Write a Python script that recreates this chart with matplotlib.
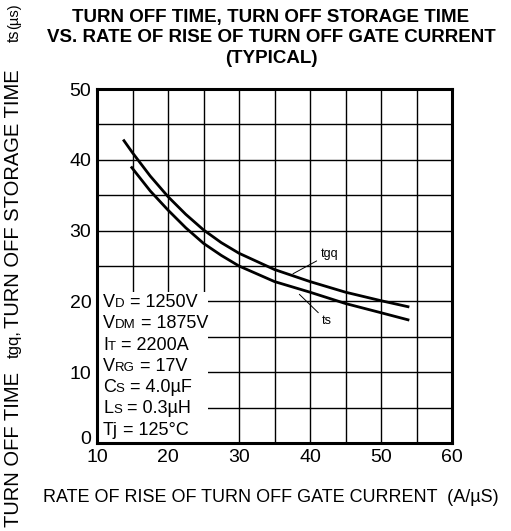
import matplotlib
matplotlib.use("Agg")
import matplotlib.pyplot as plt
import matplotlib.transforms as mtransforms
from matplotlib.patches import Rectangle
from matplotlib.offsetbox import TextArea, HPacker, AnnotationBbox

plt.rcParams["font.family"] = ["Liberation Sans", "DejaVu Sans"]

# data
x_tgq = [13.8, 15, 17.5, 20, 22.5, 25, 27.5, 30, 35, 40, 45, 50, 53.8]
tgq = [42.7, 41.0, 37.7, 34.8, 32.3, 30.1, 28.3, 26.8, 24.5, 22.8, 21.3, 20.1, 19.25]
x_ts = [14.9, 17.5, 20, 22.5, 25, 27.5, 30, 35, 40, 45, 50, 53.8]
ts = [38.9, 35.6, 32.9, 30.4, 28.2, 26.5, 25.0, 22.8, 21.3, 19.7, 18.4, 17.4]

x_ticks = [10, 20, 30, 40, 50, 60]
y_ticks = [0, 10, 20, 30, 40, 50]

# operating conditions: symbol, subscript, value
cond_sym = ["V", "V", "I", "V", "C", "L", "Tj"]
cond_sub = ["D", "DM", "T", "RG", "S", "S", ""]
cond_val = [" = 1250V", " = 1875V", " = 2200A", " = 17V",
            " = 4.0\u00b5F", " = 0.3\u00b5H", " = 125\u00b0C"]


def cond_line(ax, x, y, sym, sub, val):
    parts = [TextArea(sym, textprops=dict(fontsize=13))]
    if sub:
        parts.append(TextArea(sub, textprops=dict(fontsize=9.5)))
    parts.append(TextArea(val, textprops=dict(fontsize=13)))
    pack = HPacker(children=parts, align="baseline", pad=0, sep=0)
    ab = AnnotationBbox(pack, (x, y), xycoords="data", box_alignment=(0, 0.5),
                        frameon=False, pad=0, zorder=4)
    ax.add_artist(ab)


fig = plt.figure(figsize=(5.11, 5.31), dpi=100)
ax = fig.add_axes([97 / 511, 1 - 443 / 531, 355 / 511, 354 / 531])

ax.set_xlim(10, 60)
ax.set_ylim(0, 50)
ax.set_xticks(range(10, 61, 5))
ax.set_yticks(range(0, 51, 5))
ax.set_xticklabels([str(v) if v in x_ticks else "" for v in range(10, 61, 5)])
ax.set_yticklabels([str(v) if v in y_ticks else "" for v in range(0, 51, 5)])
ax.tick_params(length=0, labelsize=14, pad=4)
ax.grid(True, color="black", lw=1.0)
for s in ax.spines.values():
    s.set_linewidth(2.2)

# the "0" sits a little higher than the axis in the original
lab0 = ax.get_yticklabels()[0]
lab0.set_transform(lab0.get_transform() +
                   mtransforms.ScaledTranslation(0, 4 / 72, fig.dpi_scale_trans))

ax.plot(x_tgq, tgq, color="black", lw=2.0, zorder=3)
ax.plot(x_ts, ts, color="black", lw=2.0, zorder=3)

# white box behind the operating conditions
ax.add_patch(Rectangle((10, 0), 15.6, 21.3, facecolor="white",
                       edgecolor="none", zorder=2))
y_rows = [19.9, 16.9, 13.8, 10.8, 7.9, 4.9, 1.8]
for sym, sub, val, yy in zip(cond_sym, cond_sub, cond_val, y_rows):
    cond_line(ax, 10.85, yy, sym, sub, val)

ax.annotate("tgq", xy=(37.6, 23.9), xytext=(41.5, 26.7), fontsize=9,
            va="center", ha="left",
            arrowprops=dict(arrowstyle="-", lw=0.7, color="black",
                            shrinkA=1, shrinkB=0))
ax.annotate("ts", xy=(38.5, 21.0), xytext=(41.7, 17.2), fontsize=9,
            va="center", ha="left",
            arrowprops=dict(arrowstyle="-", lw=0.7, color="black",
                            shrinkA=1, shrinkB=0))

fig.text(271 / 511, 1 - 38 / 531,
         "TURN OFF TIME, TURN OFF STORAGE TIME\n"
         "VS. RATE OF RISE OF TURN OFF GATE CURRENT\n(TYPICAL)",
         ha="center", va="center", fontsize=13.5, fontweight="bold",
         linespacing=1.3)

fig.text(271 / 511, 1 - 498 / 531,
         "RATE OF RISE OF TURN OFF GATE CURRENT  (A/\u00b5S)",
         ha="center", va="center", fontsize=13)

# vertical y label built from pieces
yl_x = 14 / 511
fig.text(yl_x, 1 - 527 / 531, "TURN OFF TIME", rotation=90, ha="center",
         va="bottom", fontsize=14.5)
fig.text(yl_x, 1 - 358 / 531, "tgq,", rotation=90, ha="center",
         va="bottom", fontsize=12)
fig.text(yl_x, 1 - 328 / 531, "TURN OFF STORAGE TIME", rotation=90,
         ha="center", va="bottom", fontsize=14.5)
fig.text(yl_x, 1 - 42 / 531, "ts", rotation=90, ha="center",
         va="bottom", fontsize=11.5)
fig.text(yl_x, 1 - 29 / 531, "(\u00b5s)", rotation=90, ha="center",
         va="bottom", fontsize=10.5)

fig.savefig("out.png", dpi=100)
